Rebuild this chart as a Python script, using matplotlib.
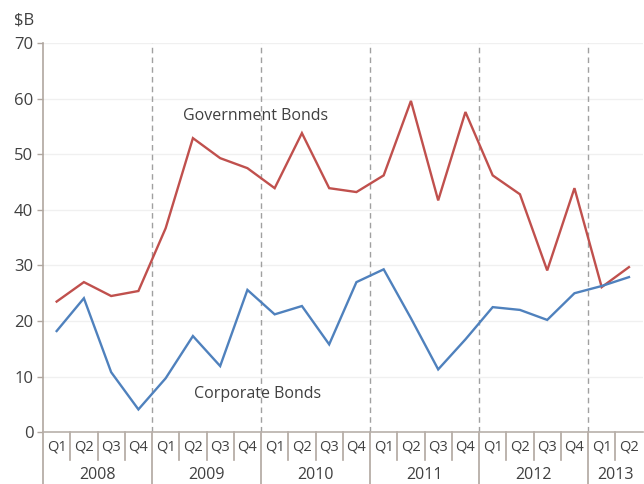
import matplotlib
matplotlib.use("Agg")
import matplotlib.pyplot as plt
from matplotlib.lines import Line2D

plt.rcParams["font.family"] = ["Open Sans", "DejaVu Sans"]

years = ["2008", "2009", "2010", "2011", "2012", "2013"]
quarters_per_year = [4, 4, 4, 4, 4, 2]
quarter_names = ["Q1", "Q2", "Q3", "Q4"]

government = [23.5, 27.0, 24.5, 25.4,
              36.7, 52.9, 49.3, 47.5,
              43.9, 53.8, 43.9, 43.2,
              46.2, 59.6, 41.7, 57.6,
              46.2, 42.8, 29.1, 43.9,
              26.1, 29.7]
corporate = [18.2, 24.1, 10.8, 4.1,
             9.7, 17.3, 11.9, 25.6,
             21.2, 22.7, 15.8, 27.0,
             29.3, 20.5, 11.3, 16.7,
             22.5, 22.0, 20.2, 25.0,
             26.3, 27.9]

y_ticks = [0, 10, 20, 30, 40, 50, 60, 70]

RED = "#c0504d"
BLUE = "#4f81bd"
TEXT = "#404040"
AXIS = "#b0a7a0"

fig = plt.figure(figsize=(6.44, 4.84), dpi=100)
ax = fig.add_axes([0.0668, 0.107, 0.931, 0.804])

x = list(range(len(government)))
ax.plot(x, government, color=RED, lw=1.7, solid_joinstyle="miter")
ax.plot(x, corporate, color=BLUE, lw=1.7, solid_joinstyle="miter")

n = len(government)
ax.set_xlim(-0.5, n - 0.5)
ax.set_ylim(0, 70)
ax.set_yticks(y_ticks)
ax.tick_params(axis="y", length=4, width=1, color=AXIS, labelsize=12,
               labelcolor=TEXT, pad=3)
ax.set_xticks([])
for ytk in y_ticks[1:]:
    ax.axhline(ytk, color="#f0f0f0", lw=1, zorder=0)

for side in ["top", "right"]:
    ax.spines[side].set_visible(False)
ax.spines["left"].set_color(AXIS)
ax.spines["left"].set_linewidth(1.2)
ax.spines["bottom"].set_color("#b8b0aa")
ax.spines["bottom"].set_linewidth(1.2)

# year boundaries inside the plot and the category axis beneath it
trans = ax.get_xaxis_transform()
q_bottom = -0.072
y_bottom = -0.135
pos = 0
for yi, (yr, nq) in enumerate(zip(years, quarters_per_year)):
    start = pos - 0.5
    if yi > 0:
        ax.axvline(start, color="#a0a0a0", lw=1, ls=(0, (4, 3)), zorder=1)
    ax.add_line(Line2D([start, start], [0, y_bottom], transform=trans,
                       color=AXIS, lw=1.2, clip_on=False))
    for q in range(nq):
        xi = pos + q
        if q > 0:
            ax.add_line(Line2D([xi - 0.5, xi - 0.5], [0, q_bottom],
                               transform=trans, color=AXIS, lw=1.2,
                               clip_on=False))
        ax.text(xi, -0.039, quarter_names[q], transform=trans, ha="center",
                va="center", fontsize=10.5, color=TEXT)
    ax.text(pos + (nq - 1) / 2, -0.11, yr, transform=trans, ha="center",
            va="center", fontsize=11.5, color=TEXT)
    pos += nq

ax.text(7.31, 56.9, "Government Bonds", ha="center", va="center",
        fontsize=11.5, color=TEXT)
ax.text(7.38, 6.8, "Corporate Bonds", ha="center", va="center",
        fontsize=11.5, color=TEXT)

fig.text(0.022, 0.958, "$B", ha="left", va="center", fontsize=12,
         color=TEXT)

fig.savefig("out.png", dpi=100)
